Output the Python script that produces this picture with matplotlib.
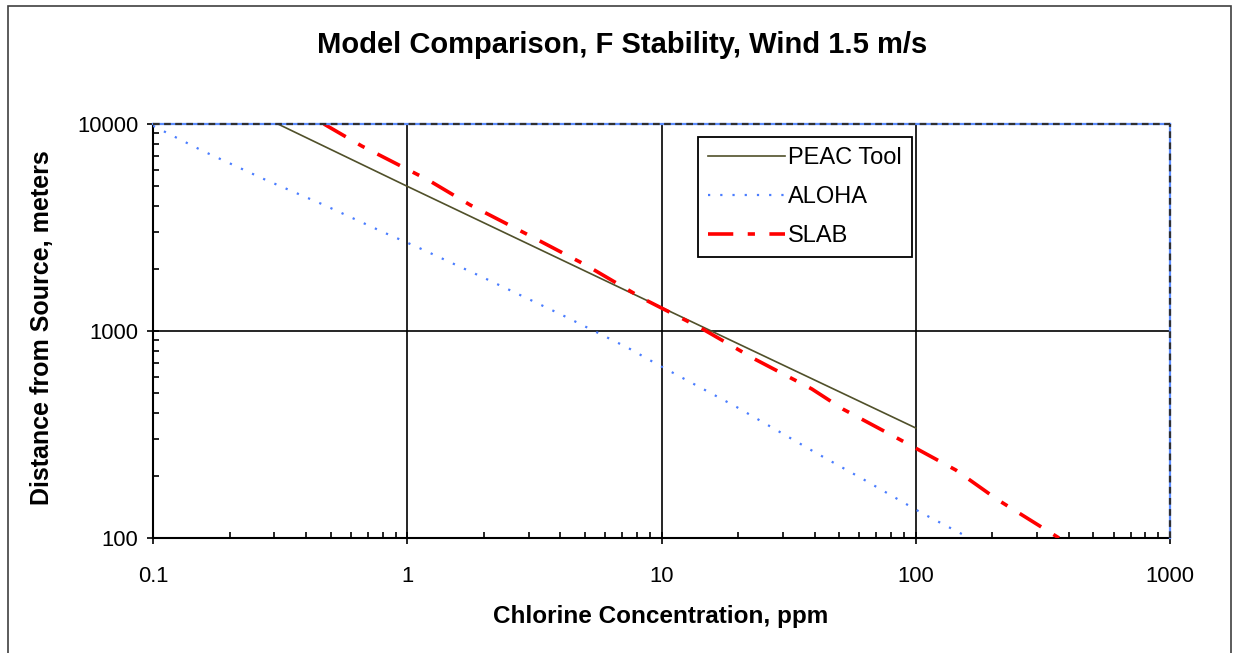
import matplotlib
matplotlib.use("Agg")
import matplotlib.pyplot as plt
from matplotlib.ticker import LogLocator, NullFormatter, FixedLocator, FixedFormatter

# datos (concentracion ppm, distancia m)
peac_x = [0.31, 1, 10, 100]
peac_y = [10000, 5000, 1300, 340]

aloha_x = [0.1, 0.157, 0.273, 0.471, 0.818, 1.09, 1.97, 4.07, 7.41, 9.73,
           19.7, 40, 61.8, 105.6, 152, 162]
aloha_y = [9800, 7410, 5420, 4060, 2975, 2550, 1824, 1194, 827, 685,
           430, 260, 193, 132, 104.5, 100]

slab_x = [0.47, 0.662, 1.21, 1.77, 2.94, 5.03, 8.49, 14.3, 23.2, 39.0,
          51.6, 85.7, 143.7, 210, 366]
slab_y = [10000, 7830, 5360, 4060, 2945, 2085, 1430, 1033, 733, 525,
          420, 301, 213, 153, 100]

x_ticks = [0.1, 1, 10, 100, 1000]
x_labels = ["0.1", "1", "10", "100", "1000"]
y_ticks = [100, 1000, 10000]
y_labels = ["100", "1000", "10000"]

TXT = ["Liberation Sans", "DejaVu Sans"]

fig = plt.figure(figsize=(12.35, 6.53), dpi=100)
ax = fig.add_axes([153 / 1235, 1 - 538 / 653, 1017 / 1235, 414 / 653])

# marco exterior
fig.add_artist(plt.Rectangle((8 / 1235, -0.05), 1223 / 1235, 1 - 6 / 653 + 0.05,
                             transform=fig.transFigure, fill=False,
                             edgecolor="#404040", linewidth=1.2))

ax.set_xscale("log")
ax.set_yscale("log")
ax.set_xlim(0.1, 1000)
ax.set_ylim(100, 10000)

# rejilla principal
for xv in [1, 10, 100]:
    ax.axvline(xv, color="black", linewidth=1.2, zorder=1)
ax.axhline(1000, color="black", linewidth=1.2, zorder=1)

ax.plot(peac_x, peac_y, color="#50502a", linewidth=1.2, label="PEAC Tool", zorder=3)
ax.plot(aloha_x, aloha_y, color="#4a7dff", linewidth=1.6,
        linestyle=(0, (1, 4.5)), label="ALOHA", zorder=3)
ax.plot(slab_x, slab_y, color="#ff0000", linewidth=2.6,
        linestyle=(0, (7.0, 4.0, 2.0, 4.0)), label="SLAB", zorder=3)

# bordes superior y derecho discontinuos
ax.spines["top"].set_visible(False)
ax.spines["right"].set_visible(False)
for xs, ys in [([0, 1], [1, 1]), ([1, 1], [0, 1])]:
    ax.plot(xs, ys, transform=ax.transAxes, color="#5b8cff", linewidth=1.6,
            clip_on=False, zorder=4)
    ax.plot(xs, ys, transform=ax.transAxes, color="#303030", linewidth=1.6,
            linestyle=(0, (3, 2)), clip_on=False, zorder=5)
ax.spines["left"].set_linewidth(1.5)
ax.spines["bottom"].set_linewidth(1.5)

ax.xaxis.set_major_locator(FixedLocator(x_ticks))
ax.xaxis.set_major_formatter(FixedFormatter(x_labels))
ax.yaxis.set_major_locator(FixedLocator(y_ticks))
ax.yaxis.set_major_formatter(FixedFormatter(y_labels))
ax.xaxis.set_minor_locator(LogLocator(base=10, subs=range(2, 10)))
ax.yaxis.set_minor_locator(LogLocator(base=10, subs=range(2, 10)))
ax.xaxis.set_minor_formatter(NullFormatter())
ax.yaxis.set_minor_formatter(NullFormatter())
ax.tick_params(which="major", direction="inout", length=9, width=1.2,
               labelsize=15.8)
ax.tick_params(axis="x", which="major", pad=16)
ax.tick_params(axis="y", which="major", pad=6)
ax.tick_params(which="minor", direction="in", length=4, width=1.2)
for lab in ax.get_xticklabels() + ax.get_yticklabels():
    lab.set_fontfamily(TXT)

fig.text(622 / 1235, 1 - 45 / 653, "Model Comparison, F Stability, Wind 1.5 m/s",
         ha="center", va="center", fontsize=21, fontweight="bold", family=TXT)
fig.text(661 / 1235, 1 - 617 / 653, "Chlorine Concentration, ppm",
         ha="center", va="center", fontsize=17.5, fontweight="bold", family=TXT)
fig.text(42 / 1235, 1 - 328 / 653, "Distance from Source, meters", rotation=90,
         ha="center", va="center", fontsize=18, fontweight="bold", family=TXT)

leg = ax.legend(loc="upper left", bbox_to_anchor=(545 / 1017, (538 - 137) / 414),
                borderaxespad=0, frameon=True, fancybox=False, framealpha=1,
                edgecolor="black", prop={"family": TXT, "size": 17},
                handlelength=3.25, handletextpad=0.15, labelspacing=0.72,
                borderpad=0.42)
leg.get_frame().set_linewidth(1.3)
leg.set_zorder(6)

fig.savefig("out.png", dpi=100)
